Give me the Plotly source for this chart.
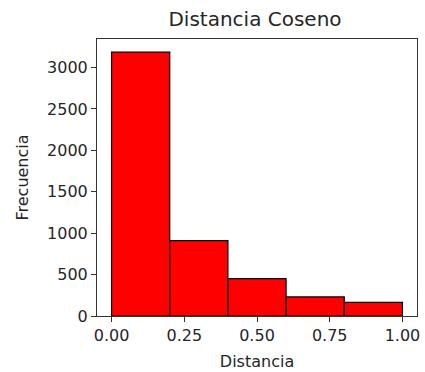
import plotly.graph_objects as go

# Histogram of cosine distances: bin edges and counts per bin
bin_edges = [0.0, 0.2, 0.4, 0.6, 0.8, 1.0]
counts = [3186, 910, 451, 230, 165]
x_ticks = [0.0, 0.25, 0.5, 0.75, 1.0]
y_ticks = [0, 500, 1000, 1500, 2000, 2500, 3000]

centers = [(a + b) / 2 for a, b in zip(bin_edges[:-1], bin_edges[1:])]
widths = [b - a for a, b in zip(bin_edges[:-1], bin_edges[1:])]

FONT = "DejaVu Sans"
TXT = "#262626"

fig = go.Figure(
    go.Bar(
        x=centers,
        y=counts,
        width=widths,
        marker=dict(color="#ff0000", line=dict(color="black", width=1.2)),
        hoverinfo="x+y",
    )
)

ymax = max(counts) * 1.05
fig.update_layout(
    width=425,
    height=372,
    margin=dict(l=97, r=5, t=39, b=56),
    paper_bgcolor="white",
    plot_bgcolor="white",
    showlegend=False,
    font=dict(family=FONT, size=16, color=TXT),
    title=dict(
        text="Distancia Coseno",
        x=0.6, xanchor="center",
        y=1 - 19 / 372, yanchor="middle",
        font=dict(family=FONT, size=20, color=TXT),
    ),
    xaxis=dict(
        range=[-0.05, 1.05],
        tickvals=x_ticks,
        ticktext=[f"{v:.2f}" for v in x_ticks],
        ticks="outside", ticklen=5, tickwidth=1, tickcolor="#333",
        showline=True, linecolor="#333", linewidth=1, mirror=True,
        showgrid=False, zeroline=False,
        tickfont=dict(family=FONT, size=16, color=TXT),
        title=dict(text="Distancia", standoff=11,
                   font=dict(family=FONT, size=16, color=TXT)),
    ),
    yaxis=dict(
        range=[0, ymax],
        tickvals=y_ticks,
        ticks="outside", ticklen=5, tickwidth=1, tickcolor="#333",
        showline=True, linecolor="#333", linewidth=1, mirror=True,
        showgrid=False, zeroline=False,
        tickfont=dict(family=FONT, size=16, color=TXT),
        title=dict(text="Frecuencia", standoff=14,
                   font=dict(family=FONT, size=16, color=TXT)),
    ),
)

fig.write_html("out.html")
